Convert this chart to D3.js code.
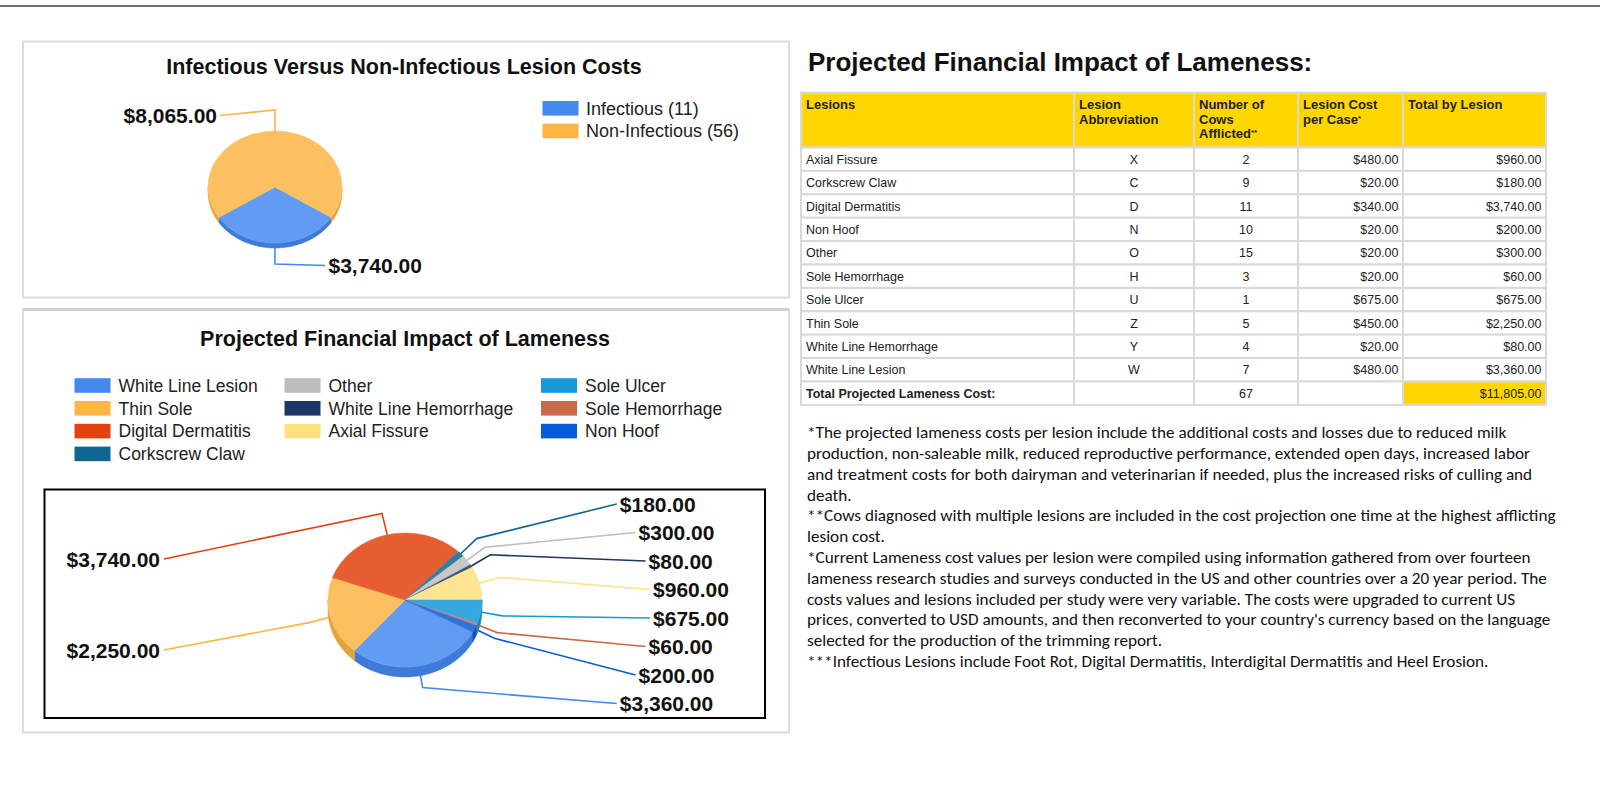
<!DOCTYPE html>
<html><head><meta charset="utf-8">
<script src="https://cdn.jsdelivr.net/npm/d3@7"></script>
<style>
html,body{margin:0;padding:0;background:#fff;}
svg{display:block;}
</style></head>
<body>
<svg id="c" width="1600" height="786"></svg>
<script>
// ---------------- DATA ----------------
const lesions = ["Axial Fissure","Corkscrew Claw","Digital Dermatitis","Non Hoof","Other","Sole Hemorrhage","Sole Ulcer","Thin Sole","White Line Hemorrhage","White Line Lesion"];
const abbrevs = ["X","C","D","N","O","H","U","Z","Y","W"];
const cowsAfflicted = [2,9,11,10,15,3,1,5,4,7];
const costPerCase = [480,20,340,20,20,20,675,450,20,480];
const totalByLesion = [960,180,3740,200,300,60,675,2250,80,3360];

const pieOrder = ["White Line Lesion","Thin Sole","Digital Dermatitis","Corkscrew Claw","Other","White Line Hemorrhage","Axial Fissure","Sole Ulcer","Sole Hemorrhage","Non Hoof"];
const pieColors = ["#4589F0","#FDB544","#E2420E","#0F6692","#BDBDBD","#1B3766","#FFE07F","#1599DB","#CB6A4B","#055CD8"];

const infCategories = ["Infectious","Non-Infectious"];
const infCounts = [11,56];
const infCosts = [3740,8065];
const infColors = ["#4589F0","#FDB544"];

const headerLabels = [["Lesions"],["Lesion","Abbreviation"],["Number of","Cows","Afflicted**"],["Lesion Cost","per Case*"],["Total by Lesion"]];
const totalRowLabel = "Total Projected Lameness Cost:";
const pageHeading = "Projected Financial Impact of Lameness:";
const topTitle = "Infectious Versus Non-Infectious Lesion Costs";
const bottomTitle = "Projected Financial Impact of Lameness";

const footnotes = [
"*The projected lameness costs per lesion include the additional costs and losses due to reduced milk",
"production, non-saleable milk, reduced reproductive performance, extended open days, increased labor",
"and treatment costs for both dairyman and veterinarian if needed, plus the increased risks of culling and",
"death.",
"**Cows diagnosed with multiple lesions are included in the cost projection one time at the highest afflicting",
"lesion cost.",
"*Current Lameness cost values per lesion were compiled using information gathered from over fourteen",
"lameness research studies and surveys conducted in the US and other countries over a 20 year period. The",
"costs values and lesions included per study were very variable. The costs were upgraded to current US",
"prices, converted to USD amounts, and then reconverted to your country's currency based on the language",
"selected for the production of the trimming report.",
"***Infectious Lesions include Foot Rot, Digital Dermatitis, Interdigital Dermatitis and Heel Erosion."
];

// ---------------- HELPERS ----------------
const FONT = '"Liberation Sans", Arial, Helvetica, sans-serif';
const money = v => "$" + d3.format(",.2f")(v);
const topColor = c => d3.interpolateRgb(c, "#ffffff")(0.15);
const sideColor = c => d3.interpolateRgb(c, "#000000")(0.10);
const svg = d3.select("#c");

function pie3d(g, items, o) {
  const pie = d3.pie().sort(null).value(d => d.value).startAngle(o.start).endAngle(o.start + 2 * Math.PI);
  const arcs = pie(items);
  const pt = (a, k = 0) => [o.cx + (o.rx + k) * Math.sin(a), o.cy - (o.ry + k) * Math.cos(a)];
  const L = { lines: g.append("g"), sides: g.append("g"), tops: g.append("g"), labels: g.append("g") };
  arcs.forEach(a => {
    for (let k = -1; k <= 2; k++) {
      const lo = Math.max(a.startAngle, Math.PI / 2 + 2 * Math.PI * k);
      const hi = Math.min(a.endAngle, 1.5 * Math.PI + 2 * Math.PI * k);
      if (hi > lo) {
        const n = Math.max(2, Math.ceil((hi - lo) / 0.02));
        const top = d3.range(n + 1).map(i => pt(lo + (hi - lo) * i / n));
        const bot = top.slice().reverse().map(p => [p[0], p[1] + o.depth]);
        L.sides.append("path").attr("d", d3.line()(top.concat(bot)) + "Z")
          .attr("fill", sideColor(a.data.color)).attr("stroke", sideColor(a.data.color)).attr("stroke-width", 0.5);
      }
    }
  });
  const arc = d3.arc().innerRadius(0).outerRadius(o.rx);
  L.tops.append("g").attr("transform", `translate(${o.cx},${o.cy}) scale(1,${o.ry / o.rx})`)
    .selectAll("path").data(arcs).join("path")
    .attr("d", arc).attr("fill", d => topColor(d.data.color))
    .attr("stroke", d => topColor(d.data.color)).attr("stroke-width", 0.6);
  arcs.forEach(a => { a.mid = (((a.startAngle + a.endAngle) / 2) % (2 * Math.PI) + 2 * Math.PI) % (2 * Math.PI); });
  return { arcs, pt, L };
}

function leader(layer, pts, color) {
  layer.append("path").attr("d", d3.line()(pts)).attr("fill", "none")
    .attr("stroke", color).attr("stroke-width", 1.6);
}
function label(layer, x, y, txt, anchor) {
  layer.append("text").attr("x", x).attr("y", y).attr("text-anchor", anchor)
    .attr("font-family", FONT).attr("font-weight", "bold").attr("font-size", 21)
    .attr("fill", "#111").text(txt);
}

// ---------------- PAGE FRAME ----------------
svg.append("line").attr("x1", 0).attr("x2", 1600).attr("y1", 6).attr("y2", 6)
  .attr("stroke", "#707070").attr("stroke-width", 2);

svg.append("rect").attr("x", 23).attr("y", 41.5).attr("width", 766).attr("height", 256)
  .attr("fill", "#fff").attr("stroke", "#dcdcdc").attr("stroke-width", 2);
svg.append("rect").attr("x", 23).attr("y", 309.5).attr("width", 766).attr("height", 423)
  .attr("fill", "#fff").attr("stroke", "#dcdcdc").attr("stroke-width", 2);
svg.append("line").attr("x1", 23).attr("x2", 789).attr("y1", 309.5).attr("y2", 309.5)
  .attr("stroke", "#cfcfcf").attr("stroke-width", 3);

// ---------------- TOP PANEL ----------------
svg.append("text").attr("x", 404).attr("y", 73.5).attr("text-anchor", "middle")
  .attr("font-family", FONT).attr("font-weight", "bold").attr("font-size", 21.5)
  .attr("fill", "#111").text(topTitle);

{
  const items = infCategories.map((c, i) => ({ name: c, value: infCosts[i], color: infColors[i] }));
  const o = { cx: 275, cy: 187, rx: 67, ry: 56, depth: 5, start: 123 * Math.PI / 180 };
  const g = svg.append("g");
  const { arcs, pt, L } = pie3d(g, items, o);
  arcs.forEach(a => {
    const upper = Math.cos(a.mid) > 0;
    const lx = upper ? o.cx - 58 : o.cx + 53.5;
    const ly = upper ? o.cy - 71.5 : o.cy + 78.5;
    const p0 = pt(a.mid, 0), p1 = pt(a.mid, 21);
    leader(L.lines, [p0, p1, [upper ? lx + 3 : lx - 3.5, ly]], a.data.color);
    label(L.labels, lx, ly + 7.5, money(a.data.value), upper ? "end" : "start");
  });
  // legend
  const lg = svg.append("g");
  infCategories.forEach((c, i) => {
    const y = 108.3 + i * 22.7;
    lg.append("rect").attr("x", 542.5).attr("y", y - 7.3).attr("width", 36).attr("height", 14.6).attr("fill", infColors[i]);
    lg.append("text").attr("x", 586).attr("y", y + 6.4).attr("font-family", FONT).attr("font-size", 18)
      .attr("fill", "#222").text(`${c} (${infCounts[i]})`);
  });
}

// ---------------- BOTTOM PANEL ----------------
svg.append("text").attr("x", 405).attr("y", 345.5).attr("text-anchor", "middle")
  .attr("font-family", FONT).attr("font-weight", "bold").attr("font-size", 21.5)
  .attr("fill", "#111").text(bottomTitle);

{
  const lg = svg.append("g");
  const colX = [74.5, 284.5, 541];
  const colOf = i => (i < 4 ? 0 : i < 7 ? 1 : 2);
  const rowOf = i => (i < 4 ? i : i < 7 ? i - 4 : i - 7);
  pieOrder.forEach((n, i) => {
    const x = colX[colOf(i)], y = 385.5 + rowOf(i) * 22.8;
    lg.append("rect").attr("x", x).attr("y", y - 7.3).attr("width", 36).attr("height", 14.6).attr("fill", pieColors[i]);
    lg.append("text").attr("x", x + 44).attr("y", y + 6.2).attr("font-family", FONT).attr("font-size", 17.5)
      .attr("fill", "#222").text(n);
  });
}

svg.append("rect").attr("x", 44.5).attr("y", 489.5).attr("width", 720.5).attr("height", 228.5)
  .attr("fill", "#fff").attr("stroke", "#000").attr("stroke-width", 2);

{
  const items = pieOrder.map((n, i) => ({ name: n, value: totalByLesion[lesions.indexOf(n)], color: pieColors[i] }));
  const o = { cx: 405, cy: 600, rx: 77, ry: 67, depth: 10, start: 118.5 * Math.PI / 180 };
  const g = svg.append("g");
  const { arcs, pt, L } = pie3d(g, items, o);
  const right = arcs.filter(a => Math.sin(a.mid) >= 0).sort((p, q) => p.mid - q.mid);
  const left = arcs.filter(a => Math.sin(a.mid) < 0).sort((p, q) => q.mid - p.mid);
  const rCy = 603.75, rGap = 28.5;
  right.forEach((a, i) => {
    const ly = rCy + (i - (right.length - 1) / 2) * rGap;
    const dy = (ly - rCy) / 122.5;
    const lx = 573 + 80.6 * Math.sqrt(Math.max(0, 1 - dy * dy));
    leader(L.lines, [pt(a.mid, 0), pt(a.mid, 22), [lx - 3, ly]], a.data.color);
    label(L.labels, lx, ly + 7.5, money(a.data.value), "start");
  });
  const lCy = 604.5, lGap = 91;
  left.forEach((a, i) => {
    const ly = lCy + (i - (left.length - 1) / 2) * lGap;
    const lx = 160;
    leader(L.lines, [pt(a.mid, 0), pt(a.mid, 22), [lx + 4, ly]], a.data.color);
    label(L.labels, lx, ly + 7.5, money(a.data.value), "end");
  });
}

// ---------------- RIGHT: HEADING + TABLE ----------------
svg.append("text").attr("x", 808).attr("y", 70.5)
  .attr("font-family", FONT).attr("font-weight", "bold").attr("font-size", 26)
  .attr("fill", "#111").text(pageHeading);

{
  const colEdges = [801, 1074, 1194, 1298, 1403, 1546];
  const headTop = 92.7, headH = 54.8, rowH = 23.4;
  const tg = svg.append("g");
  const border = "#d9d9d9";
  // header
  headerLabels.forEach((lines, c) => {
    tg.append("rect").attr("x", colEdges[c]).attr("y", headTop).attr("width", colEdges[c + 1] - colEdges[c])
      .attr("height", headH).attr("fill", "#FFD600").attr("stroke", border).attr("stroke-width", 2);
    lines.forEach((ln, j) => {
      const t = tg.append("text").attr("x", colEdges[c] + 5).attr("y", headTop + 16.3 + j * 14.5)
        .attr("font-family", FONT).attr("font-weight", "bold").attr("font-size", 13).attr("fill", "#222");
      const m = ln.match(/^(.*?)(\*+)$/);
      if (m) {
        t.append("tspan").text(m[1]);
        t.append("tspan").attr("font-size", 8).attr("dy", -3).text(m[2]);
      } else t.text(ln);
    });
  });
  // body rows
  const bodyTop = headTop + headH;
  lesions.forEach((n, r) => {
    const y0 = bodyTop + r * rowH;
    const vals = [n, abbrevs[r], String(cowsAfflicted[r]), money(costPerCase[r]), money(totalByLesion[r])];
    vals.forEach((v, c) => {
      tg.append("rect").attr("x", colEdges[c]).attr("y", y0).attr("width", colEdges[c + 1] - colEdges[c])
        .attr("height", rowH).attr("fill", "#fff").attr("stroke", border).attr("stroke-width", 2);
      const anchor = c === 0 ? "start" : c <= 2 ? "middle" : "end";
      const x = c === 0 ? colEdges[c] + 5 : c <= 2 ? (colEdges[c] + colEdges[c + 1]) / 2 : colEdges[c + 1] - 4.5;
      tg.append("text").attr("x", x).attr("y", y0 + 16.3).attr("text-anchor", anchor)
        .attr("font-family", FONT).attr("font-size", 12.5).attr("fill", "#222").text(v);
    });
  });
  // total row
  const yT = bodyTop + lesions.length * rowH;
  const totalVals = [totalRowLabel, "", String(d3.sum(cowsAfflicted)), "", money(d3.sum(totalByLesion))];
  totalVals.forEach((v, c) => {
    tg.append("rect").attr("x", colEdges[c]).attr("y", yT).attr("width", colEdges[c + 1] - colEdges[c])
      .attr("height", rowH).attr("fill", c === 4 ? "#FFD600" : "#fff").attr("stroke", border).attr("stroke-width", 2);
    if (!v) return;
    const anchor = c === 0 ? "start" : c <= 2 ? "middle" : "end";
    const x = c === 0 ? colEdges[c] + 5 : c <= 2 ? (colEdges[c] + colEdges[c + 1]) / 2 : colEdges[c + 1] - 4.5;
    tg.append("text").attr("x", x).attr("y", yT + 16.5).attr("text-anchor", anchor)
      .attr("font-family", FONT).attr("font-size", 12.5).attr("font-weight", c === 0 ? "bold" : "normal")
      .attr("fill", "#222").text(v);
  });
}

// ---------------- FOOTNOTES ----------------
{
  const fg = svg.append("g");
  const texts = footnotes.map((ln, i) => fg.append("text").attr("x", 0).attr("y", 438.3 + i * 20.8)
    .attr("font-family", "Carlito, Calibri, Lato, 'Open Sans', sans-serif").attr("font-size", 15.5)
    .attr("fill", "#111").text(ln));
  const maxW = d3.max(texts, t => t.node().getComputedTextLength());
  const sx = 749 / maxW;
  fg.attr("transform", `translate(807,0) scale(${sx},1)`);
}
</script>
</body></html>
